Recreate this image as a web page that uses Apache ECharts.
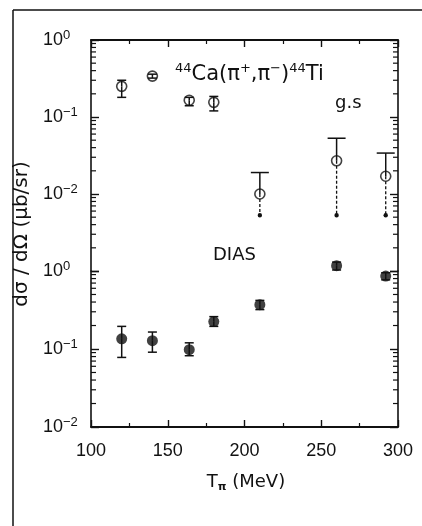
<!DOCTYPE html>
<html><head><meta charset="utf-8">
<script src="https://cdn.jsdelivr.net/npm/echarts@6/dist/echarts.min.js"></script>
<style>html,body{margin:0;padding:0;background:#fff}#c{width:422px;height:526px}</style>
</head><body><div id="c"></div>
<script>
// ---- data ----
const energies = [120, 140, 164, 180, 210, 260, 292];            // T_pi (MeV)
const gsValues = [0.25, 0.34, 0.165, 0.155, 0.010, 0.027, 0.017]; // g.s. dσ/dΩ (μb/sr)
const gsHigh   = [0.30, 0.36, 0.180, 0.185, 0.019, 0.053, 0.034];
const gsLow    = [0.18, 0.32, 0.140, 0.120, 0.0053, 0.0053, 0.0053];
const gsUpperLimit = [false, false, false, false, true, true, true];
const diasValues = [0.135, 0.128, 0.098, 0.225, 0.37, 1.17, 0.86]; // DIAS dσ/dΩ (μb/sr)
const diasHigh   = [0.195, 0.165, 0.120, 0.260, 0.42, 1.30, 0.95];
const diasLow    = [0.078, 0.091, 0.082, 0.195, 0.32, 1.03, 0.77];
const xTicks = [100, 150, 200, 250, 300];

const FONT = '"Liberation Sans", Arial, sans-serif';
const WFONT = '"DejaVu Sans", sans-serif';
const INK = '#111';

function expLabel(v) {
  const e = Math.round(Math.log10(v));
  return '{b|10}{s|' + (e === 0 ? '0' : '−' + (-e)) + '}';
}
function minorTicks(loExp, hiExp) {
  const out = [];
  for (let k = loExp; k < hiExp; k++) for (let m = 2; m <= 9; m++) out.push([m * Math.pow(10, k)]);
  return out;
}
const labelRich = {
  b: { fontSize: 18, fontFamily: FONT, color: INK, lineHeight: 22 },
  s: { fontSize: 13, fontFamily: FONT, color: INK, verticalAlign: 'top', lineHeight: 22 }
};

function yAxis(grid, min, side, hideBelow) {
  return {
    type: 'log', logBase: 10, gridIndex: grid, min: min, max: 1, position: side,
    axisLine: { show: true, lineStyle: { color: INK, width: 1.6 } },
    axisTick: { show: true, inside: true, length: 8, lineStyle: { color: INK, width: 1.4 } },
    splitLine: { show: false }, minorTick: { show: false },
    axisLabel: side === 'left' ? {
      show: true, align: 'left', margin: 48,
      formatter: v => (v < hideBelow ? '' : expLabel(v)), rich: labelRich
    } : { show: false }
  };
}
function xAxis(grid, side, labels) {
  return {
    type: 'value', gridIndex: grid, min: xTicks[0], max: xTicks[xTicks.length - 1], interval: 50, position: side,
    axisLine: { show: true, lineStyle: { color: INK, width: 1.8 } },
    axisTick: { show: true, inside: true, length: 7, lineStyle: { color: INK, width: 1.4 } },
    minorTick: { show: true, splitNumber: 2, length: 4, lineStyle: { color: INK, width: 1.2 } },
    splitLine: { show: false }, minorSplitLine: { show: false },
    axisLabel: labels ? { show: true, margin: 15, fontSize: 18, fontFamily: FONT, color: INK } : { show: false }
  };
}

function tickRender(params, api) {
  const v = api.value(0);
  const l = api.coord([xTicks[0], v]);
  const r = api.coord([xTicks[xTicks.length - 1], v]);
  const st = { stroke: INK, lineWidth: 1.2 };
  return { type: 'group', children: [
    { type: 'line', shape: { x1: l[0], y1: l[1], x2: l[0] + 5, y2: l[1] }, style: st },
    { type: 'line', shape: { x1: r[0] - 5, y1: r[1], x2: r[0], y2: r[1] }, style: st }
  ]};
}
function errRender(params, api) {
  const x = api.value(0);
  const c = api.coord([x, api.value(1)]);
  const lo = api.coord([x, api.value(2)]);
  const hi = api.coord([x, api.value(3)]);
  const lim = api.value(4) === 1;
  const st = { stroke: INK, lineWidth: 1.5 };
  const cap = lim ? 9 : 4.5;
  const ch = [
    { type: 'line', shape: { x1: hi[0], y1: hi[1], x2: c[0], y2: c[1] }, style: st },
    { type: 'line', shape: { x1: hi[0] - cap, y1: hi[1], x2: hi[0] + cap, y2: hi[1] }, style: st }
  ];
  if (lim) {
    ch.push({ type: 'line', shape: { x1: c[0], y1: c[1], x2: lo[0], y2: lo[1] }, style: { stroke: INK, lineWidth: 1.3, lineDash: [3, 2] } });
    ch.push({ type: 'circle', shape: { cx: lo[0], cy: lo[1], r: 2.2 }, style: { fill: INK } });
  } else {
    ch.push({ type: 'line', shape: { x1: c[0], y1: c[1], x2: lo[0], y2: lo[1] }, style: st });
    ch.push({ type: 'line', shape: { x1: lo[0] - cap, y1: lo[1], x2: lo[0] + cap, y2: lo[1] }, style: st });
  }
  return { type: 'group', children: ch };
}

const gsErrData = energies.map((e, i) => [e, gsValues[i], gsLow[i], gsHigh[i], gsUpperLimit[i] ? 1 : 0]);
const diasErrData = energies.map((e, i) => [e, diasValues[i], diasLow[i], diasHigh[i], 0]);

const chart = echarts.init(document.getElementById('c'), null, { renderer: 'canvas' });
chart.setOption({
  backgroundColor: '#fff',
  animation: false,
  grid: [
    { left: 91, top: 40, width: 307, height: 231, outerBoundsMode: 'none' },
    { left: 91, top: 271, width: 307, height: 156, outerBoundsMode: 'none' }
  ],
  xAxis: [xAxis(0, 'top', false), xAxis(1, 'bottom', true)],
  yAxis: [yAxis(0, 0.001, 'left', 0.005), yAxis(0, 0.001, 'right', 0), yAxis(1, 0.01, 'left', 0), yAxis(1, 0.01, 'right', 0)],
  series: [
    { type: 'custom', xAxisIndex: 0, yAxisIndex: 0, data: minorTicks(-3, 0), renderItem: tickRender, encode: { y: 0 }, clip: false, silent: true },
    { type: 'custom', xAxisIndex: 1, yAxisIndex: 2, data: minorTicks(-2, 0), renderItem: tickRender, encode: { y: 0 }, clip: false, silent: true },
    { type: 'custom', name: 'g.s. err', xAxisIndex: 0, yAxisIndex: 0, data: gsErrData, renderItem: errRender, encode: { x: 0, y: [1, 2, 3] }, clip: false, z: 3 },
    { type: 'custom', name: 'DIAS err', xAxisIndex: 1, yAxisIndex: 2, data: diasErrData, renderItem: errRender, encode: { x: 0, y: [1, 2, 3] }, clip: false, z: 3 },
    { type: 'scatter', name: 'g.s', xAxisIndex: 0, yAxisIndex: 0, data: energies.map((e, i) => [e, gsValues[i]]),
      symbol: 'circle', symbolSize: 10, clip: false, z: 4,
      itemStyle: { color: 'rgba(0,0,0,0)', borderColor: INK, borderWidth: 1.6 } },
    { type: 'scatter', name: 'DIAS', xAxisIndex: 1, yAxisIndex: 2, data: energies.map((e, i) => [e, diasValues[i]]),
      symbol: 'circle', symbolSize: 11, clip: false, z: 4, itemStyle: { color: INK } }
  ],
  graphic: [
    { type: 'line', shape: { x1: 13, y1: 10, x2: 422, y2: 10 }, style: { stroke: INK, lineWidth: 1.5 } },
    { type: 'line', shape: { x1: 13, y1: 10, x2: 13, y2: 526 }, style: { stroke: INK, lineWidth: 1.5 } },
    { type: 'text', x: 175, y: 75, style: {
        text: '{s|44}{b|Ca(π}{s|+}{b|,π}{s|−}{b|)}{s|44}{b|Ti}', verticalAlign: 'middle',
        rich: { b: { fontSize: 21, fontFamily: WFONT, fill: INK, lineHeight: 26 }, s: { fontSize: 13, fontFamily: WFONT, fill: INK, verticalAlign: 'top', lineHeight: 26 } } } },
    { type: 'text', x: 335, y: 103, style: { text: 'g.s', fontSize: 18, fontFamily: WFONT, fill: INK, verticalAlign: 'middle' } },
    { type: 'text', x: 213, y: 255, style: { text: 'DIAS', fontSize: 18, fontFamily: WFONT, fill: INK, verticalAlign: 'middle' } },
    { type: 'text', x: 22, y: 234, rotation: Math.PI / 2, style: {
        text: 'dσ / dΩ (μb/sr)', fontSize: 20, fontFamily: WFONT, fill: INK, align: 'center', verticalAlign: 'middle' } },
    { type: 'text', x: 246, y: 482, style: {
        text: '{b|T}{u|π}{b| (MeV)}', align: 'center', verticalAlign: 'middle',
        rich: { b: { fontSize: 18, fontFamily: WFONT, fill: INK, lineHeight: 22 }, u: { fontSize: 11, fontWeight: 'bold', fontFamily: WFONT, fill: INK, verticalAlign: 'bottom', lineHeight: 22 } } } }
  ]
});
</script></body></html>
